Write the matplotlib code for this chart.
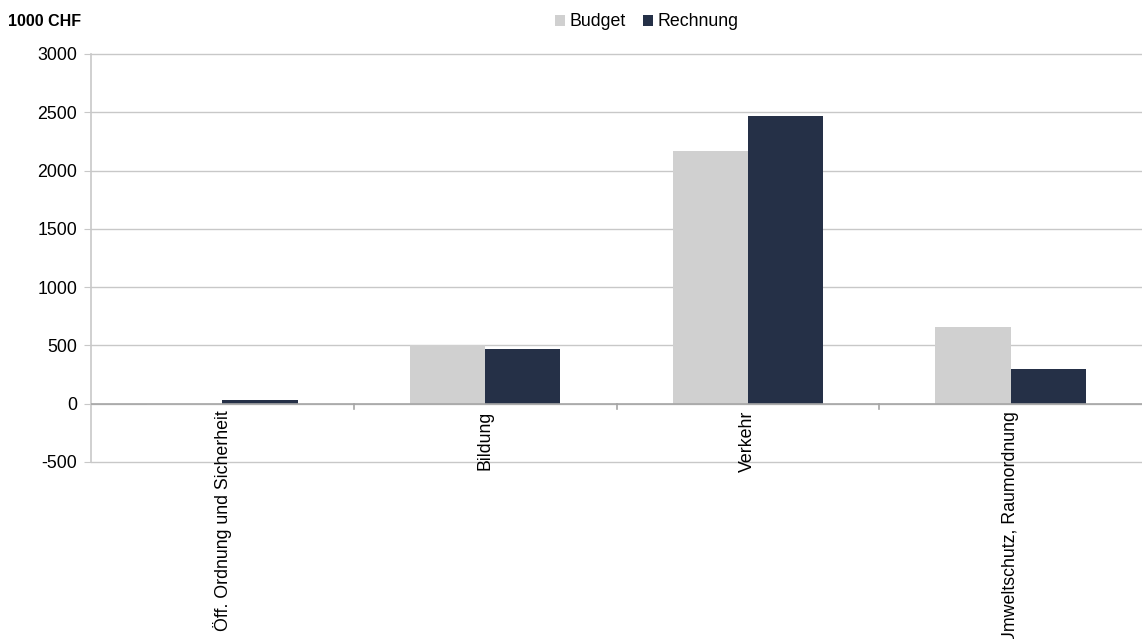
import numpy as np
import matplotlib.pyplot as plt

plt.rcParams['font.family'] = ['Liberation Sans', 'DejaVu Sans']
plt.rcParams['axes.unicode_minus'] = False

# Daten
kategorien = ["Öff. Ordnung und Sicherheit", "Bildung", "Verkehr", "Umweltschutz, Raumordnung"]
budget = [-8, 500, 2165, 655]
rechnung = [35, 473, 2465, 300]

col_budget = "#d0d0d0"
col_rechnung = "#253047"
fs = 12.8

fig = plt.figure(figsize=(11.42, 6.39), dpi=100)
ax = fig.add_axes([91 / 1142, 1 - 462 / 639, 1 - 91 / 1142, (462 - 54) / 639])

x = np.arange(len(kategorien))
w = 0.286
ax.bar(x - w / 2, budget, w, color=col_budget, label="Budget", zorder=3)
ax.bar(x + w / 2, rechnung, w, color=col_rechnung, label="Rechnung", zorder=3)

ax.set_xlim(-0.5, len(kategorien) - 0.5)
ax.set_ylim(-500, 3000)
ax.set_yticks(np.arange(-500, 3001, 500))
ax.grid(axis="y", color="#c8c8c8", linewidth=1, zorder=0)
for gl in ax.get_ygridlines():
    gl.set_clip_on(False)
ax.axhline(0, color="#a6a6a6", linewidth=1.2, zorder=4)

for s in ["top", "right", "bottom"]:
    ax.spines[s].set_visible(False)
ax.spines["left"].set_color("#c8c8c8")
ax.spines["left"].set_linewidth(1.2)

ax.tick_params(axis="y", length=5, color="#c8c8c8", labelsize=fs, pad=5)
ax.tick_params(axis="x", length=0, labelsize=fs)

# Kategorie-Beschriftungen am Nullpunkt
ax.set_xticks(x)
ax.set_xticklabels([])
for xi, lab in zip(x, kategorien):
    ax.annotate(lab, xy=(xi, 0), xycoords="data", xytext=(0, -5),
                textcoords="offset points", rotation=90, ha="center", va="top",
                fontsize=fs, annotation_clip=False)
# Trennstriche zwischen Kategorien
for b in x[:-1] + 0.5:
    ax.plot([b, b], [0, -45], color="#a6a6a6", linewidth=1.2, zorder=4, clip_on=False)

fig.text(8 / 1142, 1 - 22 / 639, "1000 CHF", fontsize=11.5, fontweight="bold", va="center")

ax.legend(loc="center", bbox_to_anchor=(0.529, 1 + 32 / 408), ncol=2, frameon=False,
          fontsize=fs, handlelength=0.55, handleheight=0.55, handletextpad=0.25,
          columnspacing=1.0)

fig.savefig("out.png", dpi=100)
